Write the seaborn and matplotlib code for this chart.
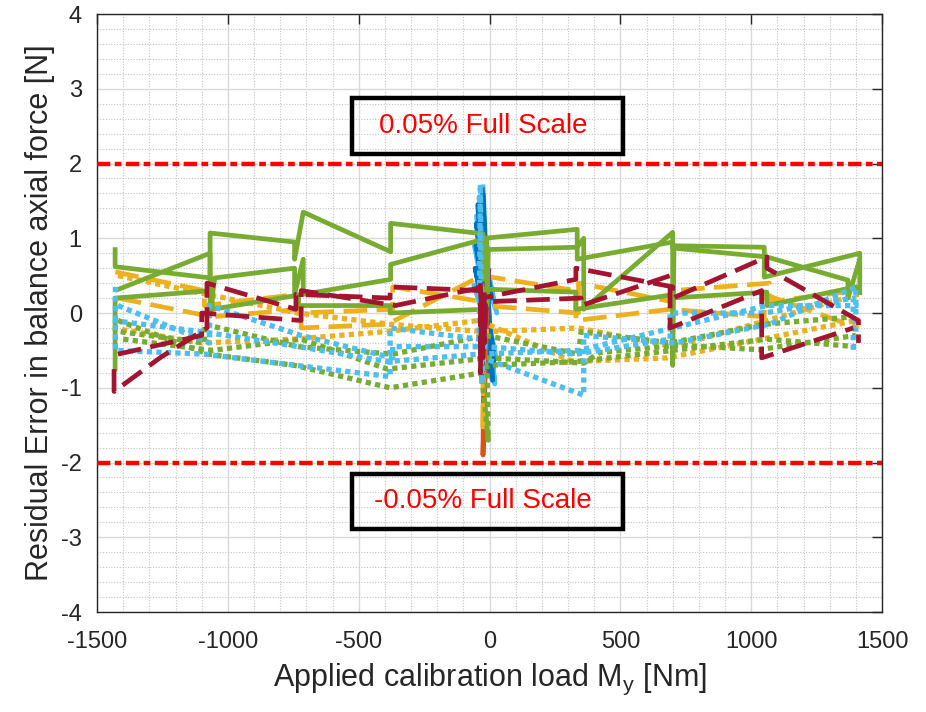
import pandas as pd
import seaborn as sns
import matplotlib.pyplot as plt
from matplotlib.patches import Rectangle
from matplotlib.ticker import MultipleLocator

# === cores (ordem padrão do MATLAB) ===
BLUE   = "#0072BD"
ORANGE = "#D95319"
YELLOW = "#EDB120"
PURPLE = "#7E2F8E"
GREEN  = "#77AC30"
LBLUE  = "#4DBEEE"
DRED   = "#A2142F"

# === dados: cada série é uma polilinha (x = carga My [Nm], y = erro residual [N]) ===
# verde contínuo
gs1_x = [-1431, -1431, -1068, -1068, -745, -745, -712, -378, -378, -25, -25, -20, 335, 335, 700, 700, 1060, 1370, 1370, 1415]
gs1_y = [0.88, 0.62, 0.47, 1.07, 0.95, 0.72, 1.35, 0.82, 1.20, 1.06, 0.45, 1.00, 1.12, 0.72, 0.95, 0.87, 0.75, 0.44, 0.20, 0.72]
gs2_x = [-1431, -1068, -1068, -1050, -745, -745, -712, -712, -378, -378, -10, -10, -5, 335, 360, 360, 700, 700, 705, 1050, 1050, 1415, 1415]
gs2_y = [0.30, 0.80, 0.00, 0.47, 0.60, 0.25, 0.72, 0.25, 0.45, 0.65, 1.00, 0.10, 0.85, 0.88, 1.00, 0.05, 1.08, -0.70, 0.90, 0.88, 0.48, 0.80, 0.24]
gs3_x = [-1431, -1431, -1060, -1060, -730, -730, -380, -380, -20, -20, 330, 330, 690, 690, 1060, 1060, 1400, 1400]
gs3_y = [-0.78, 0.20, 0.30, 0.05, 0.24, 0.10, 0.10, 0.00, 0.05, 0.32, 0.28, 0.05, 0.24, 0.20, 0.28, 0.10, 0.35, 0.25]

# verde pontilhado
gd1_x = [-1420, -1075, -745, -380, -30, -5, -10, 335, 700, 1060, 1400]
gd1_y = [-0.10, -0.55, -0.70, -1.00, -0.80, -1.70, -0.70, -0.65, -0.50, -0.35, -0.45]
gd2_x = [-1410, -1090, -1090, -730, -370, -15, 340, 350, 690, 1050, 1390]
gd2_y = [-0.25, -0.40, -0.15, -0.45, -0.55, -0.30, -0.55, -0.25, -0.40, -0.15, -0.05]
gd3_x = [-1400, -1060, -720, -390, -5, 360, 420, 720, 1030, 1400]
gd3_y = [-0.35, -0.50, -0.35, -0.75, -0.60, -0.67, -0.53, -0.43, -0.49, -0.30]

# amarelo tracejado
yd1_x = [-1430, -1090, -1090, -735, -735, -370, -370, -25, -25, -20, 340, 340, 700, 700, 1070, 1070, 1400]
yd1_y = [0.55, 0.30, 0.10, 0.25, 0.00, 0.05, 0.35, 0.15, -1.60, 0.10, 0.00, 0.40, 0.15, 0.30, 0.40, 0.15, 0.30]
yd2_x = [-1420, -1060, -720, -720, -390, -30, 330, 330, 690, 1050, 1050, 1410]
yd2_y = [0.20, -0.05, 0.05, -0.20, -0.15, 0.50, 0.30, -0.10, 0.05, -0.05, 0.25, -0.20]

# amarelo pontilhado
yt1_x = [-1420, -1080, -730, -380, -20, 340, 700, 1060, 1410]
yt1_y = [0.50, 0.25, 0.00, -0.15, -0.25, -0.20, -0.45, -0.10, 0.25]
yt2_x = [-1440, -1100, -750, -400, -40, 320, 680, 1040, 1400]
yt2_y = [-0.20, -0.40, -0.35, -0.25, -0.10, -0.65, -0.60, -0.35, -0.10]

# vermelho escuro tracejado
dr1_x = [-1435, -1435, -1260, -1080, -1080, -740, -740, -380, -380, -35, -35, -30, 330, 330, 700, 700, 1060, 1060, 1410, 1410]
dr1_y = [-0.75, -1.05, -0.60, -0.20, 0.40, 0.05, 0.25, 0.20, 0.35, 0.30, -0.80, 0.20, 0.45, 0.60, 0.35, 0.20, 0.75, 0.60, -0.10, -0.40]
dr2_x = [-1420, -1100, -1100, -720, -720, -360, -20, -20, -15, 350, 350, 690, 690, 1040, 1040, 1390]
dr2_y = [-0.55, -0.30, 0.00, -0.10, 0.30, 0.10, 0.35, -0.40, 0.15, 0.20, 0.10, 0.50, -0.20, 0.30, -0.60, -0.20]

# azul claro pontilhado
lb1_x = [-1430, -1430, -1090, -740, -380, -380, -40, -35, -30, -25, 360, 360, 710, 1070, 1400, 1400]
lb1_y = [0.35, -0.50, -0.55, -0.70, -0.85, -0.20, -0.35, 1.72, -0.95, -0.60, -1.10, -0.30, -0.40, -0.15, 0.35, -0.25]
lb2_x = [-1420, -1070, -1070, -720, -370, -370, -10, 330, 690, 690, 1050, 1390, 1390]
lb2_y = [0.10, -0.40, 0.10, -0.30, -0.60, -0.45, -0.45, -0.55, -0.35, 0.00, 0.00, 0.20, -0.50]
lb3_x = [-1440, -1100, -730, -390, -40, 340, 700, 1060, 1410]
lb3_y = [-0.10, -0.25, -0.45, -0.65, -0.55, -0.50, -0.20, 0.10, 0.10]

# séries com My ~ 0 (pico central)
bl_x = [-28, 12, -50, 18, -55, 15, -52, 8, -45, 0, -38, -8, -24]
bl_y = [1.68, -0.90, 1.20, -0.70, 0.60, -0.50, 0.90, 0.20, 1.45, -0.80, 1.10, -0.30, 1.60]
lbs_x = [-62, 25, -58, 28, -50, 20, -40, 10, -25]
lbs_y = [0.40, -0.60, 0.90, 0.00, 1.30, -0.95, 1.55, -0.90, 1.72]
or_x = [-20, -25, -10, -32, -18]
or_y = [0.40, -1.90, 0.10, -0.50, 0.20]
pu_x = [-10, -30, -5, -28, -12, -32, -2]
pu_y = [0.90, -0.85, 0.50, -0.60, 0.30, -0.40, 0.60]
drs_x = [-35, -25, -30, -20]
drs_y = [0.40, -0.60, 0.20, -0.20]

LIMITS = [2, -2]
LIMIT_TEXT = ["0.05% Full Scale", "-0.05% Full Scale"]

SOLID  = "-"
DASHED = (0, (5, 2))
DOTTED = (0, (1, 0.8))

SERIES = [
    ("lbs", lbs_x, lbs_y, LBLUE, SOLID),
    ("bl", bl_x, bl_y, BLUE, SOLID),
    ("or", or_x, or_y, ORANGE, SOLID),
    ("yd1", yd1_x, yd1_y, YELLOW, DASHED),
    ("yd2", yd2_x, yd2_y, YELLOW, DASHED),
    ("yt1", yt1_x, yt1_y, YELLOW, DOTTED),
    ("yt2", yt2_x, yt2_y, YELLOW, DOTTED),
    ("pu", pu_x, pu_y, PURPLE, SOLID),
    ("gs1", gs1_x, gs1_y, GREEN, SOLID),
    ("gs2", gs2_x, gs2_y, GREEN, SOLID),
    ("gs3", gs3_x, gs3_y, GREEN, SOLID),
    ("gd1", gd1_x, gd1_y, GREEN, DOTTED),
    ("gd2", gd2_x, gd2_y, GREEN, DOTTED),
    ("gd3", gd3_x, gd3_y, GREEN, DOTTED),
    ("lb1", lb1_x, lb1_y, LBLUE, DOTTED),
    ("lb2", lb2_x, lb2_y, LBLUE, DOTTED),
    ("lb3", lb3_x, lb3_y, LBLUE, DOTTED),
    ("dr1", dr1_x, dr1_y, DRED, DASHED),
    ("dr2", dr2_x, dr2_y, DRED, DASHED),
    ("drs", drs_x, drs_y, DRED, SOLID),
]

# === plot ===
sns.set_theme(style="white")
plt.rcParams["font.family"] = ["Liberation Sans", "DejaVu Sans"]
plt.rcParams["axes.unicode_minus"] = False
TXT = "#262626"

fig = plt.figure(figsize=(9.26, 7.12), dpi=100)
ax = fig.add_axes([0.1048, 0.1404, 0.8477, 0.8399])

for name, xs, ys, color, ls in SERIES:
    d = pd.DataFrame({"x": xs, "y": ys})
    sns.lineplot(data=d, x="x", y="y", sort=False, estimator=None, ax=ax,
                 color=color, linestyle=ls,
                 linewidth=3.8 if ls == DOTTED else 3.4,
                 solid_capstyle="butt", dash_capstyle="butt")

# limites de ±0.05% FS
for lim, txt in zip(LIMITS, LIMIT_TEXT):
    ax.axhline(lim, color="red", linewidth=3.2, linestyle=(0, (3, 1, 1.5, 1)),
               dash_capstyle="butt", zorder=5)
    yc = 2.5 if lim > 0 else -2.52
    ax.add_patch(Rectangle((-526, yc - 0.37), 1036, 0.74, fill=False,
                           edgecolor="black", linewidth=3.2, zorder=6))
    ax.text(-25, yc, txt, color="red", fontsize=20, ha="center", va="center", zorder=7)

ax.set_xlim(-1500, 1500)
ax.set_ylim(-4, 4)
ax.xaxis.set_major_locator(MultipleLocator(500))
ax.xaxis.set_minor_locator(MultipleLocator(100))
ax.yaxis.set_major_locator(MultipleLocator(1))
ax.yaxis.set_minor_locator(MultipleLocator(0.2))

ax.grid(which="major", color="#d9d9d9", linewidth=1.0, linestyle="-")
ax.grid(which="minor", color="#c4c4c4", linewidth=0.8, linestyle=(0, (1, 1.5)))
ax.set_axisbelow(True)

ax.tick_params(which="both", direction="in", top=True, right=True, colors=TXT)
ax.tick_params(which="major", length=7, width=1)
ax.tick_params(axis="x", which="major", pad=14)
ax.tick_params(axis="y", which="major", pad=11)
ax.tick_params(which="minor", length=0)
for lab in ax.get_xticklabels() + ax.get_yticklabels():
    lab.set_fontfamily(["Liberation Sans Narrow", "Liberation Sans", "DejaVu Sans"])
    lab.set_fontsize(17)
for sp in ax.spines.values():
    sp.set_color(TXT)
    sp.set_linewidth(1.0)

ax.set_xlabel(r"Applied calibration load M$_{\mathregular{y}}$ [Nm]", fontsize=22, color=TXT, labelpad=6)
ax.set_ylabel("Residual Error in balance axial force [N]", fontsize=22, color=TXT, labelpad=4)

fig.savefig("out.png", dpi=100)
